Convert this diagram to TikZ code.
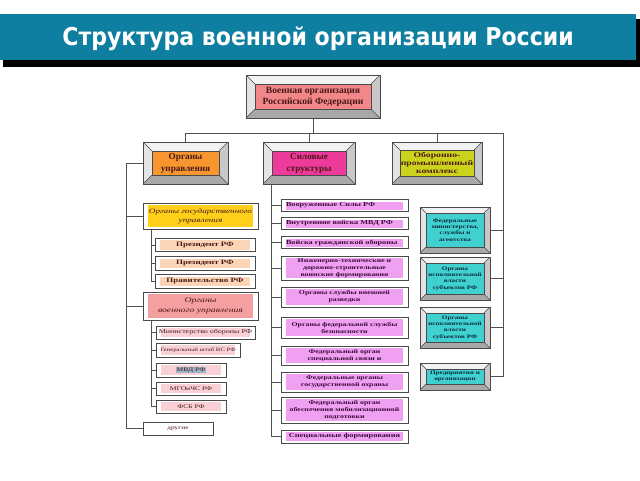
\documentclass[tikz,border=0pt]{standalone}
\usepackage{fontspec}
\setmainfont{Liberation Serif}
\newfontfamily\boxfont{Liberation Serif}[FakeStretch=1.35]
\newfontfamily\titlefont{DejaVu Sans}[FakeStretch=0.9]
\usetikzlibrary{calc}
\definecolor{cbar}{HTML}{0E7FA0}
\definecolor{cframe}{HTML}{4A4A4A}
\definecolor{cface}{HTML}{C8C8C8}
\definecolor{ctop}{HTML}{F2F2F2}
\definecolor{cleft}{HTML}{E4E4E4}
\definecolor{cbot}{HTML}{A8A8A8}
\definecolor{cline}{HTML}{505050}
\definecolor{ctext}{HTML}{4A1818}
\definecolor{cmidtxt}{HTML}{3A0A3A}
\definecolor{crtxt}{HTML}{0A2A3A}
\definecolor{csalmon}{HTML}{F2878A}
\definecolor{corange}{HTML}{F7962E}
\definecolor{cmagenta}{HTML}{EE3A9A}
\definecolor{colive}{HTML}{CCD31C}
\definecolor{cgold}{HTML}{FFCF1A}
\definecolor{cpeach}{HTML}{FBD5B5}
\definecolor{crose}{HTML}{F5A0A0}
\definecolor{cpink}{HTML}{F8D0D6}
\definecolor{cviolet}{HTML}{F0A0F0}
\definecolor{cteal}{HTML}{40D0D0}
\definecolor{csel}{HTML}{9DB3C8}
\tikzset{
  every picture/.style={line width=0.8pt},
  bevel/.style 2 args={draw=cframe, fill=cface, line width=0.6pt, align=center, inner sep=0pt, text=ctext,
    path picture={
      \path (path picture bounding box.south west) coordinate (bsw)
            (path picture bounding box.north east) coordinate (bne)
            (path picture bounding box.north west) coordinate (bnw)
            (path picture bounding box.south east) coordinate (bse);
      \fill[ctop] (bnw) -- (bne) -- ([shift={(-#2,-#2)}]bne) -- ([shift={(#2,-#2)}]bnw) -- cycle;
      \fill[cleft] (bnw) -- (bsw) -- ([shift={(#2,#2)}]bsw) -- ([shift={(#2,-#2)}]bnw) -- cycle;
      \fill[cbot] (bsw) -- (bse) -- ([shift={(-#2,#2)}]bse) -- ([shift={(#2,#2)}]bsw) -- cycle;
      \draw[cframe, line width=0.5pt] (bnw) -- ([shift={(#2,-#2)}]bnw) (bne) -- ([shift={(-#2,-#2)}]bne)
        (bsw) -- ([shift={(#2,#2)}]bsw) (bse) -- ([shift={(-#2,#2)}]bse);
      \draw[cframe, fill=#1, line width=0.6pt] ([shift={(#2,#2)}]bsw) rectangle ([shift={(-#2,-#2)}]bne);
    }},
  sub/.style={draw=cframe, fill=white, line width=0.6pt, inner sep=0.5pt, align=center, text=ctext,
    path picture={\fill[#1] ([shift={(5pt,2pt)}]path picture bounding box.south west)
      rectangle ([shift={(-5pt,-2pt)}]path picture bounding box.north east);}},
  sub/.default=white,
  mid/.style={sub=cviolet, text width=117pt, inner xsep=5pt, text=cmidtxt,
    font=\boxfont\bfseries\fontsize{5.8}{7}\selectfont},
  link/.style={draw=cline, line width=0.8pt},
}
\begin{document}
\begin{tikzpicture}[x=1pt,y=-1pt]
  \useasboundingbox (0,0) rectangle (640,480);
  \fill[black] (3,19) rectangle (640,67);
  \fill[cbar] (0,14) rectangle (636,60);
  \node[font=\titlefont\bfseries\fontsize{24.5}{28}\selectfont, text=white] (ttl) at (318,39) {Структура военной организации России};
  \node[bevel={csalmon}{9pt}, minimum width=134, minimum height=43, font=\bfseries\fontsize{9.6}{11}\selectfont] (top) at (313,96.5) {Военная организация\\Российской Федерации};
  \node[bevel={corange}{9pt}, minimum width=85, minimum height=42, font=\bfseries\fontsize{9.2}{12}\selectfont] (upr) at (185.5,163) {Органы\\управления};
  \node[bevel={cmagenta}{9pt}, minimum width=92, minimum height=42, font=\bfseries\fontsize{9.2}{12}\selectfont] (sil) at (309,163) {Силовые\\структуры};
  \node[bevel={colive}{8pt}, minimum width=90, minimum height=42, font=\boxfont\bfseries\fontsize{7.2}{8}\selectfont] (opk) at (437,163) {Оборонно-\\промышленный\\комплекс};
  % left column
  \node[sub=cgold, minimum width=115, minimum height=26, font=\boxfont\itshape\fontsize{6.8}{9}\selectfont] (gos) at (200.5,216) {Органы государственного\\управления};
  \foreach \n/\y/\t in {pr1/245/Президент РФ, pr2/263.5/Президент РФ, prav/281.5/Правительство РФ}
    \node[sub=cpeach, minimum width=100, minimum height=13.5, font=\boxfont\bfseries\fontsize{6.6}{7}\selectfont] (\n) at (205,\y) {\t};
  \node[sub=crose, minimum width=115, minimum height=28, font=\boxfont\itshape\fontsize{7.2}{9.5}\selectfont] (voen) at (200.5,306) {Органы\\военного управления};
  \node[sub=cpink, minimum width=99, minimum height=13, font=\boxfont\fontsize{5.9}{7}\selectfont] (mo) at (205.5,332.5) {Министерство обороны РФ};
  \node[sub=cpink, minimum width=84, minimum height=14, font=\boxfont\fontsize{5}{6}\selectfont] (gsh) at (198,350) {Генеральный штаб ВС РФ};
  \node[sub=cpink, minimum width=70, minimum height=14, font=\boxfont\fontsize{5.6}{6}\selectfont] (mvd) at (191,370) {\setlength{\fboxsep}{0.8pt}\colorbox{csel}{МВД РФ}};
  \node[sub=cpink, minimum width=70, minimum height=13, font=\boxfont\fontsize{5.6}{6}\selectfont] (mchs) at (191,388.5) {МГОиЧС РФ};
  \node[sub=cpink, minimum width=70, minimum height=13, font=\boxfont\fontsize{5.6}{6}\selectfont] (fsb) at (191,406.5) {ФСБ РФ};
  \node[sub, minimum width=70, minimum height=13, font=\boxfont\fontsize{5.4}{6}\selectfont] (drug) at (178,428.5) {другие};
  % middle column
  \foreach \i/\y/\t in {1/205.5/Вооруженные Силы РФ, 2/223.5/Внутренние войска МВД РФ, 3/242.5/Войска гражданской обороны}
    \node[mid, align=left, minimum height=12, font=\boxfont\bfseries\fontsize{6.1}{7}\selectfont] (m\i) at (344.5,\y) {\t};
  \foreach \i/\y/\h/\t in {4/268/24/{Инженерно-технические и\\дорожно-строительные\\воинские формирования},
      5/297/20/{Органы службы внешней\\разведки}, 6/327.5/21/{Органы федеральной службы\\безопасности},
      7/355.5/19/{Федеральный орган\\специальной связи и}, 8/382/20/{Федеральные органы\\государственной охраны},
      9/410/26/{Федеральный орган\\обеспечения мобилизационной\\подготовки}}
    \node[mid, align=center, minimum height=\h] (m\i) at (344.5,\y) {\t};
  \node[mid, align=center, minimum height=13, font=\boxfont\bfseries\fontsize{6.2}{7}\selectfont] (m10) at (344.5,436.5) {Специальные формирования};
  % right column
  \foreach \i/\y/\h/\t in {1/230/46/{Федеральные\\министерства,\\службы и\\агентства},
      2/278.5/43/{Органы\\исполнительной\\власти\\субъектов РФ}, 3/327.5/41/{Органы\\исполнительной\\власти\\субъектов РФ},
      4/376.5/27/{Предприятия и\\организации}}
    \node[bevel={cteal}{6pt}, minimum width=70, minimum height=\h, text=crtxt, font=\boxfont\bfseries\fontsize{5.3}{6.4}\selectfont] (r\i) at (455,\y) {\t};
  % connectors
  \coordinate (rb) at (503,133);
  \draw[link] (top.south) -- (top.south |- rb);
  \draw[link] (upr.north) |- (rb) |- (r4.east);
  \draw[link] (sil.north) -- (sil.north |- rb);
  \draw[link] (opk.north) -- (opk.north |- rb);
  \foreach \b in {r1,r2,r3}
    \draw[link] (rb) |- (\b.east);
  \coordinate (lb) at ([xshift=-16pt]upr.west);
  \foreach \b in {gos,voen,drug}
    \draw[link] (upr.west) -- (lb) |- (\b.west);
  \foreach \b in {pr1,pr2,prav}
    \draw[link] ([xshift=9pt]gos.south west) |- (\b.west);
  \foreach \b in {mo,gsh,mvd,mchs,fsb}
    \draw[link] ([xshift=9pt]voen.south west) |- (\b.west);
  \foreach \b in {1,...,10}
    \draw[link] ([xshift=9pt]sil.south west) |- (m\b.west);
\end{tikzpicture}
\end{document}
